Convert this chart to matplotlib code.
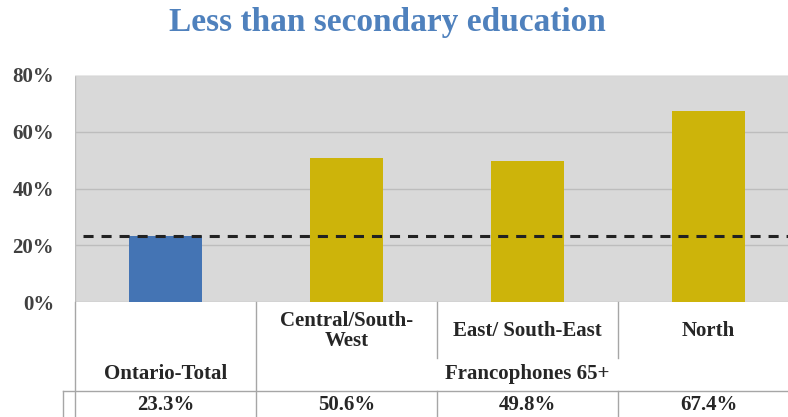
import matplotlib.pyplot as plt
from matplotlib.transforms import blended_transform_factory

categories = ["Ontario-Total", "Central/South-\nWest", "East/ South-East", "North"]
values = [23.3, 50.6, 49.8, 67.4]
value_labels = ["23.3%", "50.6%", "49.8%", "67.4%"]
group_label = "Francophones 65+"
ontario_total = 23.3
yticks = [0, 20, 40, 60, 80]

blue = "#4474B4"
gold = "#CDB40A"
serif = ["Liberation Serif", "DejaVu Serif"]

fig = plt.figure(figsize=(7.88, 4.17), dpi=100)
ax = fig.add_axes([75 / 788, 115 / 417, 724 / 788, 227 / 417])
ax.set_facecolor("#D9D9D9")

colors = [blue] + [gold] * (len(values) - 1)
ax.bar(range(len(values)), values, width=0.4, color=colors, zorder=3)

# dashed reference line for Ontario total
ax.hlines(ontario_total, -0.456, 3.6, colors="#222222", linewidth=2.2,
          linestyles=(0, (3.3, 2.6)), zorder=4, clip_on=False)

ax.set_xlim(-0.5, 3.5)
ax.set_ylim(0, 80)
ax.set_yticks(yticks)
ax.set_yticklabels([f"{t}%" for t in yticks], fontfamily=serif,
                   fontweight="bold", fontsize=15, color="#404040")
ax.set_xticks([])
ax.tick_params(axis="y", length=0, pad=15)
ax.grid(axis="y", color="#BDBDBD", linewidth=1, zorder=1)
for s in ax.spines.values():
    s.set_visible(False)
ax.axvline(-0.5, color="#BDBDBD", linewidth=1, zorder=2)
ax.axhline(80, color="#E8E8E8", linewidth=1, zorder=2)

fig.suptitle("Less than secondary education", x=387 / 788, y=1 - 23 / 417,
             va="center", fontfamily=serif, fontweight="bold", fontsize=24,
             color="#4F81BD")

# data table under the axis
tr = blended_transform_factory(ax.transData, fig.transFigure)
lc = "#A6A6A6"
top = 1 - 302 / 417
mid = 1 - 358 / 417
row = 1 - 391 / 417
for x in [-0.5, 0.5]:
    ax.plot([x, x], [top, 0], color=lc, lw=1, transform=tr, clip_on=False)
for x in [1.5, 2.5]:
    ax.plot([x, x], [top, mid], color=lc, lw=1, transform=tr, clip_on=False)
    ax.plot([x, x], [row, 0], color=lc, lw=1, transform=tr, clip_on=False)
ax.plot([-0.566, -0.566], [row, 0], color=lc, lw=1, transform=tr, clip_on=False)
ax.plot([-0.566, 3.6], [row, row], color=lc, lw=1, transform=tr, clip_on=False)

txt = dict(fontfamily=serif, fontweight="bold", fontsize=15, color="#262626",
           ha="center", va="center", transform=tr, linespacing=1.0)
ax.text(0, 1 - 374 / 417, categories[0], **txt)
for i in range(1, len(categories)):
    ax.text(i, 1 - 331 / 417, categories[i], **txt)
ax.text(2.0, 1 - 374 / 417, group_label, **txt)
for i, lab in enumerate(value_labels):
    ax.text(i, 1 - 405 / 417, lab, **txt)

fig.savefig("out.png", dpi=100)
